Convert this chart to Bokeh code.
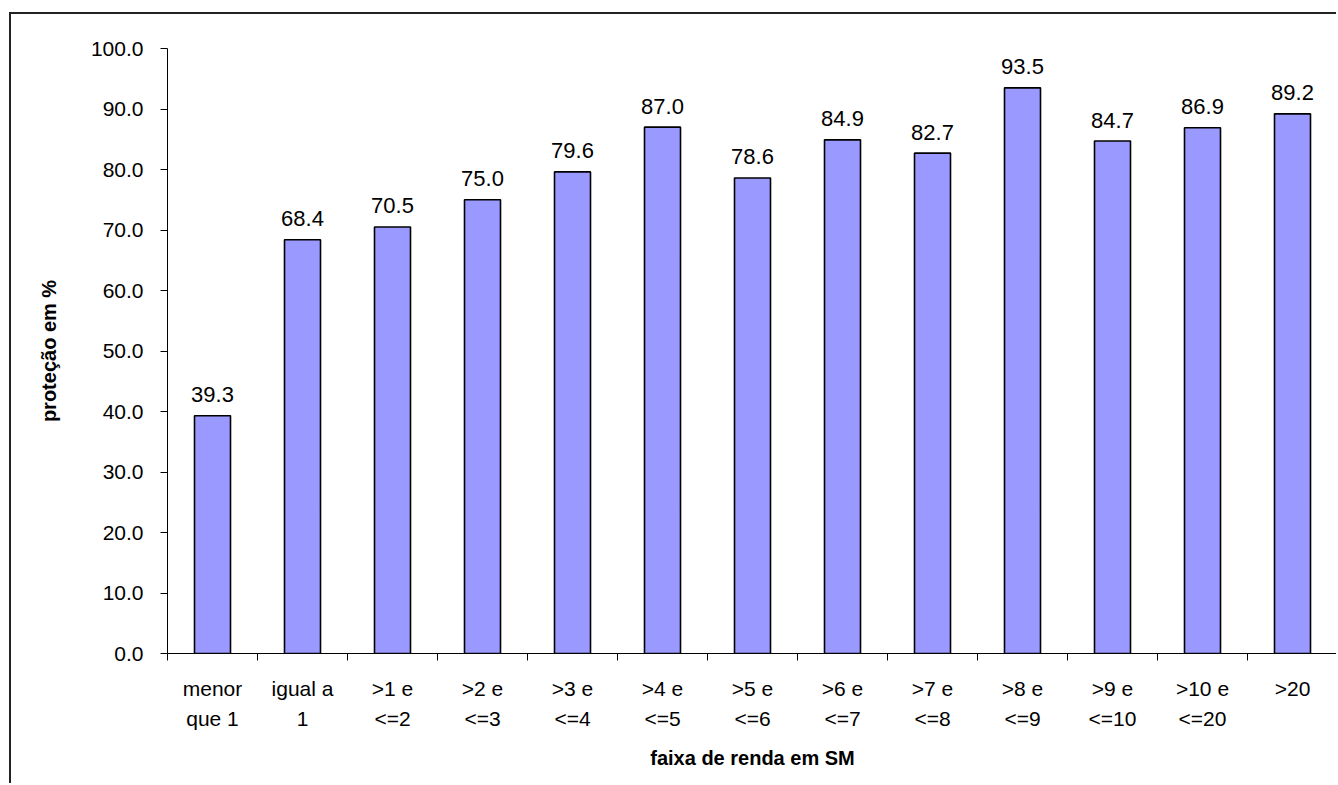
from bokeh.plotting import figure
from bokeh.models import FixedTicker, NumeralTickFormatter, Range1d, ColumnDataSource
from bokeh.core.properties import value
from bokeh.embed import file_html
from bokeh.resources import INLINE

categories = ["menor\nque 1", "igual a\n1", ">1 e\n<=2", ">2 e\n<=3", ">3 e\n<=4", ">4 e\n<=5",
              ">5 e\n<=6", ">6 e\n<=7", ">7 e\n<=8", ">8 e\n<=9", ">9 e\n<=10", ">10 e\n<=20", ">20"]
values = [39.3, 68.4, 70.5, 75.0, 79.6, 87.0, 78.6, 84.9, 82.7, 93.5, 84.7, 86.9, 89.2]
y_ticks = [0, 10, 20, 30, 40, 50, 60, 70, 80, 90, 100]

n = len(categories)
xs = [i + 0.5 for i in range(n)]
labels = ["%.1f" % v for v in values]
src = ColumnDataSource(dict(x=xs, top=values, lab=labels))

FONT = "Liberation Sans"

p = figure(width=1327, height=771, output_backend="svg", toolbar_location=None,
           x_range=Range1d(0, n), y_range=Range1d(0, 100),
           min_border_left=156, min_border_right=1, min_border_top=34, min_border_bottom=132)
p.margin = (12, 0, 0, 9)
p.styles = {"border-left": "2px solid #222", "border-top": "2px solid #222"}
p.outline_line_color = None
p.grid.visible = False
p.background_fill_color = "white"
p.border_fill_color = "white"

p.vbar(x="x", top="top", bottom=0, width=0.4, source=src,
       fill_color="#9999FF", line_color="black", line_width=1.6)
p.text(x="x", y="top", text="lab", source=src, text_align="center", text_baseline="alphabetic",
       y_offset=-21, text_font=value(FONT), text_font_size="22px", text_color="black")

xa = p.xaxis[0]
xa.ticker = FixedTicker(ticks=xs, minor_ticks=list(range(n + 1)))
xa.major_label_overrides = {x: c for x, c in zip(xs, categories)}
xa.major_tick_line_color = None
xa.major_tick_out = 7
xa.minor_tick_in = 0
xa.minor_tick_out = 7
xa.minor_tick_line_color = "black"
xa.axis_line_color = "black"
xa.major_label_standoff = 16
xa.major_label_text_font = FONT
xa.major_label_text_font_size = "21px"
xa.major_label_text_line_height = 1.33
xa.major_label_text_color = "black"
xa.axis_label = "faixa de renda em SM"
xa.axis_label_text_font = FONT
xa.axis_label_text_font_size = "20px"
xa.axis_label_text_font_style = "bold"
xa.axis_label_text_color = "black"
xa.axis_label_standoff = 14

ya = p.yaxis[0]
ya.ticker = FixedTicker(ticks=y_ticks, minor_ticks=[])
ya.formatter = NumeralTickFormatter(format="0.0")
ya.major_tick_in = 0
ya.major_tick_out = 7
ya.major_tick_line_color = "black"
ya.axis_line_color = "black"
ya.major_label_standoff = 17
ya.major_label_text_font = FONT
ya.major_label_text_font_size = "21px"
ya.major_label_text_color = "black"
ya.axis_label = "proteção em %"
ya.axis_label_text_font = FONT
ya.axis_label_text_font_size = "20px"
ya.axis_label_text_font_style = "bold"
ya.axis_label_text_color = "black"
ya.axis_label_standoff = 28

open("out.html", "w").write(file_html(p, INLINE))
